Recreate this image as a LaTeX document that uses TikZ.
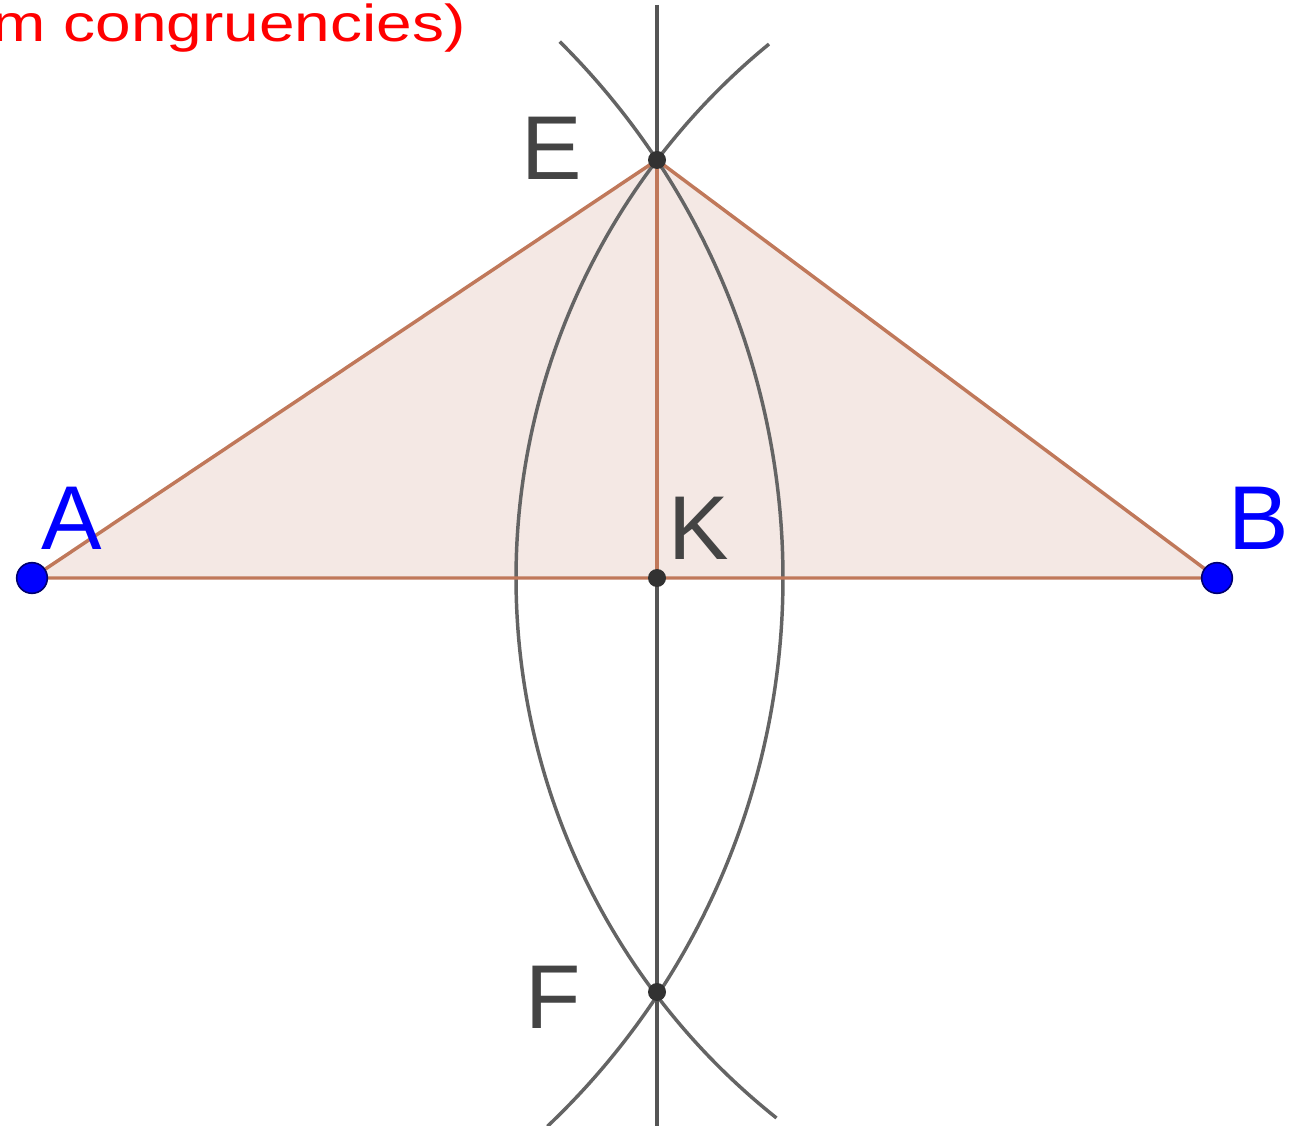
\documentclass[tikz,border=0pt]{standalone}
\usepackage{fontspec}
\setmainfont{Liberation Sans}
\definecolor{edgebrown}{RGB}{192,120,90}
\definecolor{fillpink}{RGB}{244,232,228}
\definecolor{arcgray}{RGB}{100,100,100}
\definecolor{dotgray}{RGB}{50,50,50}
\definecolor{labgray}{RGB}{68,68,68}
\definecolor{ptblue}{RGB}{0,0,255}
\definecolor{ptnavy}{RGB}{0,0,110}
\tikzset{
  x=0.75pt, y=0.75pt,
  edge/.style={draw=edgebrown, line width=2.6pt},
  construct/.style={draw=arcgray, line width=2.6pt},
  bigpt/.style={circle, fill=ptblue, draw=ptnavy, line width=1.2pt, minimum size=23pt, inner sep=0pt},
  smallpt/.style={circle, fill=dotgray, minimum size=13.5pt, inner sep=0pt},
  lab/.style={inner sep=0pt, font=\fontsize{68}{70}\selectfont},
}
\begin{document}
\begin{tikzpicture}
\useasboundingbox (0,0) rectangle (1296,-1126);
% points
\coordinate (A) at (32,-578);
\coordinate (B) at (1217,-578);
\coordinate (E) at (657,-160);
\coordinate (K) at (657,-578);
\coordinate (F) at (657,-992);
\coordinate (top) at (657,-5);
\coordinate (bot) at (657,-1126);
% triangle fill
\fill[fillpink] (A) -- (E) -- (B) -- cycle;
% perpendicular line
\draw[construct, draw=arcgray!85!black] (top) -- (bot);
% arcs
\draw[construct] (27,-578) ++(45.2:756) arc[start angle=45.2, end angle=-46.5, radius=756];
\draw[construct] (1206,-578) ++(129.3:690) arc[start angle=129.3, end angle=231.5, radius=690];
% triangle edges
\draw[edge] (A) -- (E) -- (B) -- cycle;
\draw[edge] (E) -- (K);
% point markers
\node[bigpt] (pA) at (A) {};
\node[bigpt] (pB) at (B) {};
\node[smallpt] (pE) at (E) {};
\node[smallpt] (pK) at (K) {};
\node[smallpt] (pF) at (F) {};
% labels
\node[lab, text=ptblue, anchor=base west] (lA) at (41,-550) {A};
\node[lab, text=ptblue, anchor=base west] (lB) at (1228,-550) {B};
\node[lab, text=labgray, anchor=base west] (lE) at (521,-180) {E};
\node[lab, text=labgray, anchor=base west] (lK) at (668,-560) {K};
\node[lab, text=labgray, anchor=base west] (lF) at (525,-1028) {F};
\node[inner sep=0pt, anchor=base east, text=red, xscale=1.23, font=\fontsize{39}{44}\selectfont] (title) at (466,-42) {m congruencies)};
\end{tikzpicture}
\end{document}
